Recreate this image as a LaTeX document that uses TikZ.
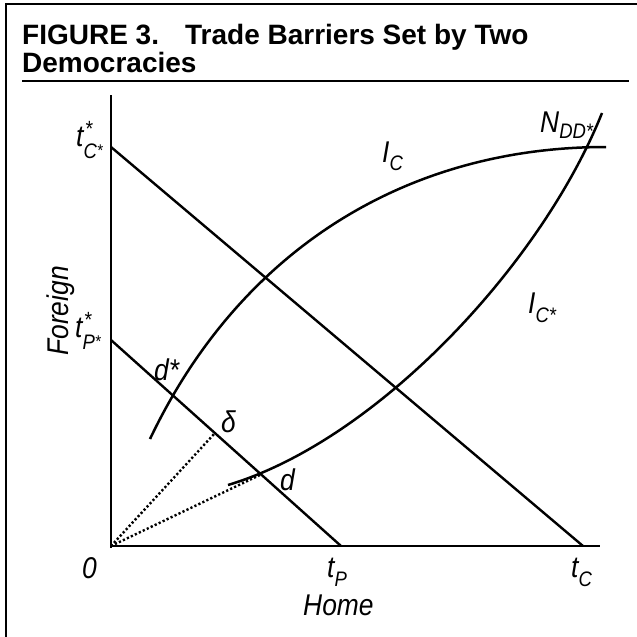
\documentclass[tikz,border=0pt]{standalone}
\usepackage{fontspec}
\usepackage{graphicx}
\setmainfont{Liberation Sans}
\newcommand{\lbl}[1]{\scalebox{0.88}[1]{\itshape\fontsize{30}{30}\selectfont #1}}
\newcommand{\subsz}{\fontsize{21}{21}\selectfont}
\newcommand{\supstar}{\fontsize{22}{22}\selectfont *}
\newcommand{\smstar}{\fontsize{17}{17}\selectfont *}
\newcommand{\ttl}[1]{{\bfseries\fontsize{28}{28}\selectfont #1}}
\begin{document}
\begin{tikzpicture}[x=1pt,y=-1pt,
  frame/.style={line width=2.2pt},
  rule/.style={line width=1.8pt},
  ax/.style={line width=2.8pt},
  ln/.style={line width=2.4pt},
  crv/.style={line width=2.5pt},
  dots/.style={line width=2.4pt, dash pattern=on 2.2pt off 2.2pt},
  lab/.style={inner sep=0pt, anchor=base west},
 ]
\useasboundingbox (0,0) rectangle (637,637);
% frame
\coordinate (fa) at (6,637);
\coordinate (fb) at (6,4);
\coordinate (fc) at (637,4);
\draw[frame] (fa) -- (fb) -- (fc);
\coordinate (ra) at (22,81);
\coordinate (rb) at (629,81);
\draw[rule] (ra) -- (rb);
% title
\node[lab] (t1) at (22,44) {\ttl{FIGURE 3.\hspace{26pt}Trade Barriers Set by Two}};
\node[lab] (t2) at (22,72) {\ttl{Democracies}};
% axes
\coordinate (O) at (111,546);
\coordinate (ytop) at (111,95);
\coordinate (ybot) at (111,548);
\coordinate (xend) at (600,546);
\draw[ax] (ytop) -- (ybot);
\draw[ax] (O) -- (xend);
% budget lines
\coordinate (yC) at (111,147);
\coordinate (xC) at (583,546);
\coordinate (yP) at (111,340);
\coordinate (xP) at (341,546);
\draw[ln] (yC) -- (xC);
\draw[ln] (yP) -- (xP);
% indifference curves
\coordinate (ic0) at (150,439);
\coordinate (ic1) at (606,147);
\coordinate (ics0) at (228,485);
\coordinate (ics1) at (602,113);
\draw[crv] (ic0) .. controls (240,250) and (406,147) .. (ic1);
\draw[crv] (ics0) .. controls (378,440) and (542,263) .. (ics1);
% dotted rays
\coordinate (delta) at (215,433);
\coordinate (dpt) at (262,474);
\draw[dots] (O) -- (delta);
\draw[dots] (O) -- (dpt);
% labels
\node[lab] (ltc) at (76,146) {\lbl{t\rlap{\hspace{1.5pt}\raisebox{10pt}{\supstar}}\raisebox{-12pt}{\subsz C\raisebox{2pt}{\smstar}}}};
\node[lab] (ltp) at (75,337) {\lbl{t\rlap{\hspace{1.5pt}\raisebox{10pt}{\supstar}}\raisebox{-12pt}{\subsz P\raisebox{2pt}{\smstar}}}};
\node[lab, rotate=90] (lf) at (68,356) {\lbl{Foreign}};
\node[lab] (l0) at (82,578) {\lbl{0}};
\node[lab] (ltP) at (327,577) {\lbl{t\raisebox{-9pt}{\subsz P}}};
\node[lab] (ltC) at (571,577) {\lbl{t\raisebox{-9pt}{\subsz C}}};
\node[lab] (lh) at (303,615) {\lbl{Home}};
\node[lab] (lds) at (154,380) {\lbl{d*}};
\node[lab] (ldel) at (221,432) {\lbl{δ}};
\node[lab] (ld) at (280,490) {\lbl{d}};
\node[lab] (lN) at (540,132) {\lbl{N\raisebox{-6pt}{\subsz DD*}}};
\node[lab] (lIC) at (382,162) {\lbl{I\raisebox{-8pt}{\subsz C}}};
\node[lab] (lICs) at (528,313) {\lbl{I\raisebox{-9pt}{\subsz C*}}};
\end{tikzpicture}
\end{document}
